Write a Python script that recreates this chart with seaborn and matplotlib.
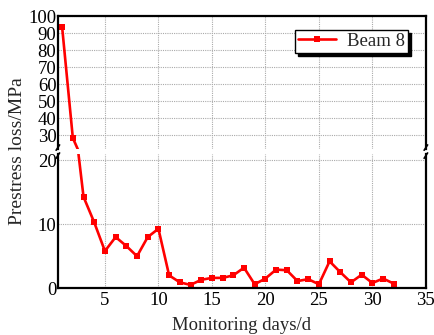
import matplotlib.pyplot as plt
import pandas as pd
import seaborn as sns

# Prestress loss of beam 8 over the monitoring period
days = list(range(1, 33))
loss = [93.5, 28.5, 14.3, 10.3, 5.8, 8.0, 6.6, 5.0, 8.0, 9.3,
        2.0, 0.9, 0.5, 1.3, 1.6, 1.6, 2.0, 3.2, 0.6, 1.5,
        2.9, 2.8, 1.1, 1.4, 0.6, 4.2, 2.5, 0.9, 2.1, 0.8,
        1.5, 0.7]
series_name = "Beam 8"
x_ticks = [5, 10, 15, 20, 25, 30, 35]
top_ticks = [30, 40, 50, 60, 70, 80, 90, 100]
bottom_ticks = [0, 10, 20]

df = pd.DataFrame({"day": days, "loss": loss, "beam": series_name})

sns.set_style("whitegrid")
plt.rcParams["font.family"] = ["Liberation Serif", "DejaVu Serif"]
plt.rcParams["font.size"] = 13.5

fig = plt.figure(figsize=(4.35, 3.35), dpi=100)
ax_top = fig.add_axes([0.133, 0.555, 0.846, 0.397])
ax_bot = fig.add_axes([0.133, 0.140, 0.846, 0.400])

for ax in (ax_top, ax_bot):
    sns.lineplot(data=df, x="day", y="loss", hue="beam", palette=["#ff0000"],
                 marker="s", markersize=5, markeredgewidth=0, linewidth=1.9,
                 ax=ax, legend=(ax is ax_top))
    ax.set_xlim(0.6, 35)
    ax.set_xticks(x_ticks)
    ax.grid(True, color="#aaaaaa", linestyle=(0, (1, 1)), linewidth=0.8)
    ax.set_facecolor("white")
    for s in ax.spines.values():
        s.set_color("black")
        s.set_linewidth(1.6)
    ax.tick_params(length=0, labelsize=13.5, colors="black", pad=1)
    ax.set_xlabel("")
    ax.set_ylabel("")

ax_top.set_ylim(22, 100)
ax_top.set_yticks(top_ticks)
ax_top.set_xticklabels([])
ax_top.spines["bottom"].set_visible(False)

ax_bot.set_ylim(0, 21)
ax_bot.set_yticks(bottom_ticks)
ax_bot.spines["top"].set_visible(False)
ax_bot.set_xticklabels([str(t) for t in x_ticks])
ax_bot.tick_params(axis="x", pad=3)

# break marks on both vertical spines
for xpos in (0, 1):
    for yoff in (-0.012, 0.012):
        fig.lines.append(plt.Line2D(
            [0.133 + 0.846 * xpos - 0.004, 0.133 + 0.846 * xpos + 0.004],
            [0.5475 + yoff - 0.008, 0.5475 + yoff + 0.008],
            color="black", linewidth=1.2, transform=fig.transFigure))

leg = ax_top.legend(loc="upper right", bbox_to_anchor=(0.951, 0.895),
                    borderaxespad=0, frameon=True, fancybox=False,
                    shadow={"color": "black", "alpha": 1},
                    edgecolor="black", fontsize=13.5, handlelength=2.0,
                    borderpad=0.15, handletextpad=0.6)
leg.get_frame().set_linewidth(1.0)
leg.set_title(None)

fig.text(0.555, 0.016, "Monitoring days/d", ha="center", va="baseline", fontsize=13.5)
fig.text(0.04, 0.55, "Prestress loss/MPa", ha="center", va="center",
         rotation=90, fontsize=14)

fig.savefig("out.png", dpi=100)
